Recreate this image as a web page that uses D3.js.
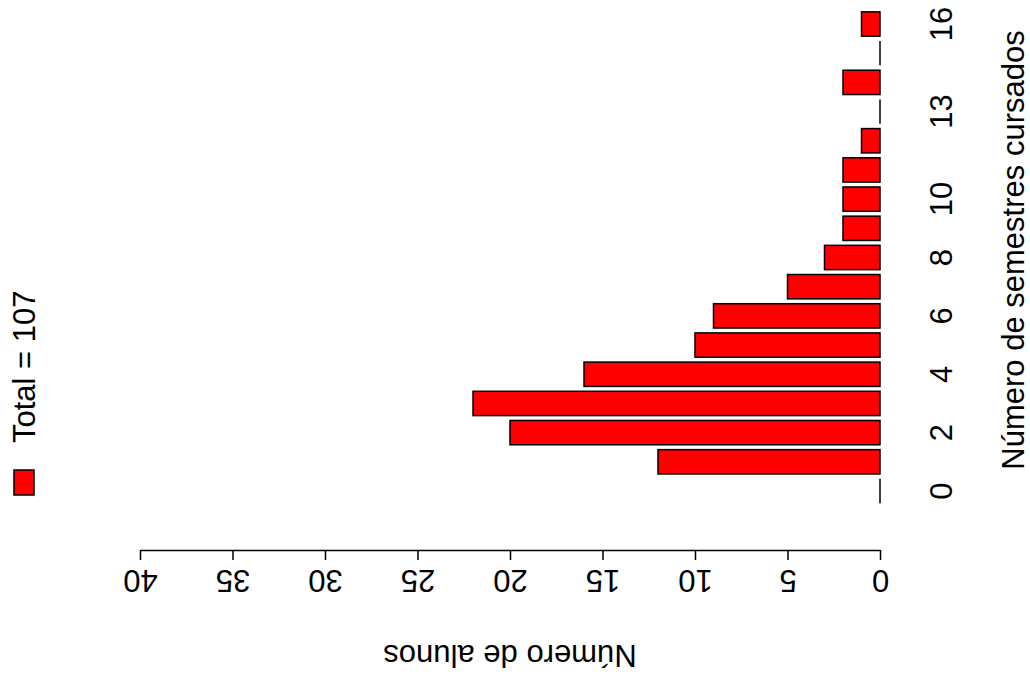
<!DOCTYPE html>
<html><head><meta charset="utf-8">
<script src="https://cdn.jsdelivr.net/npm/d3@7"></script>
<style>body{margin:0;background:#fff}text{font-family:"Liberation Sans",Arial,sans-serif}</style>
</head><body><svg id="c" width="1030" height="675"></svg>
<script>
const categories = [0,1,2,3,4,5,6,7,8,9,10,11,12,13,14,15,16];
const counts = [0,12,20,22,16,10,9,5,3,2,2,2,1,0,2,0,1];
const shownLabels = [0,2,4,6,8,10,13,16];
const countTicks = [0,5,10,15,20,25,30,35,40];
const FS = 31;

const svg = d3.select("#c");
const x = d3.scaleLinear().domain([0,40]).range([880,140]);
const step = (491-24)/16;
const y = d3.scaleBand().domain(categories).range([491+step/2, 24-step/2]).padding(0);
const bh = step/1.2;
const cy = d => y(d)+y.bandwidth()/2;

svg.selectAll("rect.bar").data(categories.filter((d,i)=>counts[i]>0)).join("rect")
  .attr("x", d=>x(counts[d]))
  .attr("y", d=>cy(d)-bh/2)
  .attr("width",d=>x(0)-x(counts[d]))
  .attr("height",bh)
  .attr("fill","#ff0000").attr("stroke","#000").attr("stroke-width",1.5);
svg.selectAll("line.zero").data(categories.filter((d,i)=>counts[i]===0)).join("line")
  .attr("x1",x(0)).attr("x2",x(0)).attr("y1",d=>cy(d)-bh/2).attr("y2",d=>cy(d)+bh/2)
  .attr("stroke","#000").attr("stroke-width",1.5);

const ax = svg.append("g").attr("transform","translate(0,550)")
  .call(d3.axisBottom(x).tickValues(countTicks).tickSize(10).tickSizeOuter(0).tickFormat(d3.format("d")));
ax.attr("font-size",null).attr("font-family",null);
ax.select(".domain").attr("stroke","#000").attr("stroke-width",1.5);
ax.selectAll(".tick line").attr("stroke-width",1.5);
ax.selectAll(".tick text").style("font-size",FS+"px").attr("y",0).attr("dy",0)
  .attr("transform","translate(0,30) rotate(180)").attr("dominant-baseline","central").attr("text-anchor","middle");

svg.selectAll("text.cat").data(shownLabels).join("text")
  .style("font-size",FS+"px").attr("text-anchor","middle").attr("dominant-baseline","central")
  .attr("transform",d=>`translate(941,${cy(d)}) rotate(-90)`).text(d=>d);

svg.append("text").style("font-size",FS+"px").attr("text-anchor","middle").attr("dominant-baseline","central")
  .attr("transform","translate(1013,250) rotate(-90)").text("Número de semestres cursados");
svg.append("text").style("font-size",FS+"px").attr("text-anchor","middle").attr("dominant-baseline","central")
  .attr("transform","translate(510,655) rotate(180)").text("Número de alunos");

svg.append("rect").attr("x",14).attr("y",470).attr("width",20).attr("height",25)
  .attr("fill","#ff0000").attr("stroke","#000").attr("stroke-width",1.5);
svg.append("text").style("font-size",FS+"px").attr("text-anchor","start").attr("dominant-baseline","central")
  .attr("transform","translate(24,443) rotate(-90)").text("Total = 107");
</script></body></html>
